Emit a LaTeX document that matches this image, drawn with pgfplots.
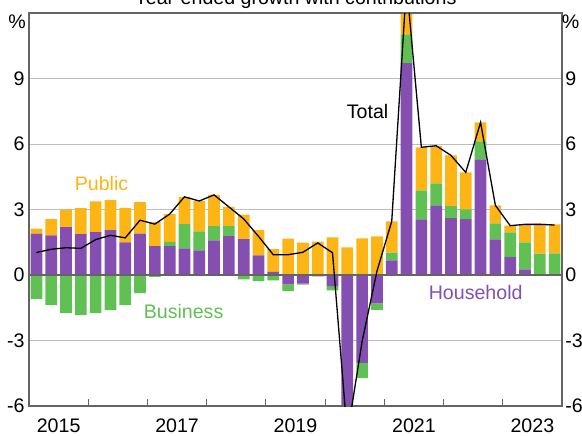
\documentclass[border=0pt]{standalone}
\usepackage{pgfplots}
\pgfplotsset{compat=1.18}
\usepackage{pgfplotstable}
\usepackage{fontspec}
\setmainfont{Liberation Sans}
\definecolor{cpub}{RGB}{253,181,21}
\definecolor{cbus}{RGB}{97,192,84}
\definecolor{chh}{RGB}{132,79,176}
\definecolor{frame}{RGB}{100,100,100}
\definecolor{gridc}{RGB}{190,190,190}

\pgfplotstableread{
x hh bus pub tot
0 1.90 -1.10 0.23 1.03
1 1.82 -1.38 0.74 1.18
2 2.19 -1.75 0.81 1.25
3 1.87 -1.84 1.19 1.22
4 1.96 -1.75 1.41 1.62
5 2.05 -1.61 1.38 1.82
6 1.50 -1.38 1.58 1.70
7 1.90 -0.83 1.44 2.51
8 1.32 -0.09 1.10 2.33
9 1.32 0.20 1.27 2.79
10 1.22 1.11 1.25 3.58
11 1.13 0.87 1.39 3.39
12 1.59 0.65 1.43 3.67
13 1.78 0.46 0.88 3.12
14 1.64 -0.20 1.13 2.57
15 0.90 -0.28 1.15 1.77
16 0.14 -0.25 1.04 0.93
17 -0.43 -0.31 1.67 0.93
18 -0.40 -0.04 1.48 1.04
19 -0.06 0.05 1.48 1.47
20 -0.51 -0.19 1.72 1.02
21 -8.20 -0.40 1.27 -7.33
22 -4.02 -0.70 1.68 -3.04
23 -1.30 -0.30 1.77 0.17
24 0.67 0.35 1.44 2.46
25 9.71 1.31 2.30 13.32
26 2.55 1.33 1.97 5.85
27 3.19 1.01 1.72 5.92
28 2.61 0.54 2.33 5.48
29 2.56 0.45 1.69 4.70
30 5.30 0.82 0.87 6.99
31 1.63 0.74 0.82 3.19
32 0.82 1.13 0.31 2.26
33 0.26 1.24 0.82 2.32
34 -0.03 0.98 1.37 2.32
35 -0.03 0.99 1.33 2.29
}\data

\pgfplotsset{
  common/.style={
    scale only axis,
    width=266.5pt, height=196.5pt,
    xmin=-0.5, xmax=35.5, ymin=-6, ymax=12,
    axis line style={draw=frame, line width=0.6pt},
    ytick={-6,-3,0,3,6,9},
    yticklabels={-6,-3,0,3,6,9},
    ytick style={draw=none},
  },
}

\begin{document}
\fontsize{9.8}{11.5}\selectfont
\begin{tikzpicture}
\begin{axis}[common,
  ybar stacked, bar width=0.79,
  ymajorgrids, major grid style={draw=gridc, line width=0.5pt},
  yticklabel pos=left,
  yticklabel style={inner sep=0pt, xshift=-2pt},
  xtick={3.5,7.5,...,31.5}, xticklabels={},
  xtick pos=left, tick align=inside,
  xtick style={draw=frame, line width=0.6pt},
  major tick length=3.5pt,
  extra x ticks={1.5,9.5,17.5,25.5,33.5},
  extra x tick labels={2015,2017,2019,2021,2023},
  extra x tick style={major tick length=0pt},
  xticklabel style={inner sep=0pt, yshift=-6pt},
]
\addplot[fill=chh, draw=none] table[x=x, y=hh] {\data};
\addplot[fill=cbus, draw=none] table[x=x, y=bus] {\data};
\addplot[fill=cpub, draw=none] table[x=x, y=pub] {\data};
\end{axis}
\begin{axis}[common,
  clip mode=individual,
  yticklabel pos=right, ytick pos=right,
  yticklabel style={inner sep=0pt, xshift=1.5pt},
  xtick=\empty,
]
\draw[draw=frame, line width=0.6pt] (axis cs:-0.5,0) -- (axis cs:35.5,0);
\addplot[black, line width=0.65pt, mark=none] table[x=x, y=tot] {\data};
\node[text=cpub] at (axis cs:4.40,4.17) {Public};
\node[text=cbus] at (axis cs:9.94,-1.65) {Business};
\node[text=black] at (axis cs:22.37,7.47) {Total};
\node[text=chh] at (axis cs:29.67,-0.78) {Household};
\node[anchor=base] at ([yshift=4.5pt]rel axis cs:0.5,1) {Year-ended growth with contributions};
\node at ([xshift=-6pt,yshift=-4.25pt]rel axis cs:0,1) {\%};
\node at ([xshift=4.25pt,yshift=-4.25pt]rel axis cs:1,1) {\%};
\end{axis}
\pgfresetboundingbox
\path[use as bounding box] (-14.5pt,-14.5pt) rectangle (276.5pt,203pt);
\end{tikzpicture}
\end{document}
